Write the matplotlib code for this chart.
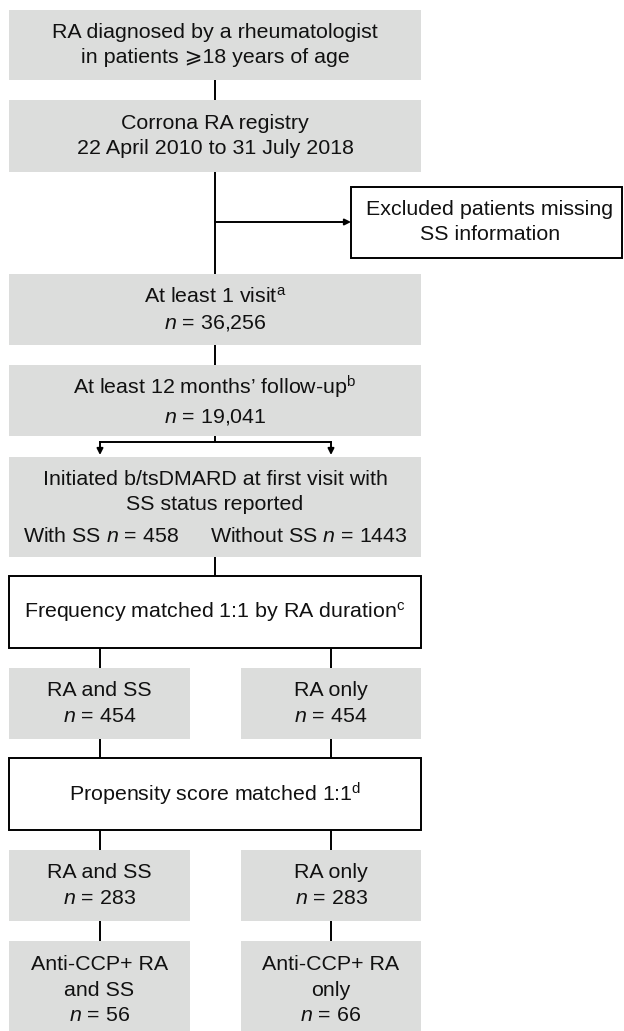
import matplotlib.pyplot as plt
from matplotlib.patches import Rectangle

# ---- flowchart content ----
stage_labels = [
    'RA diagnosed by a rheumatologist\nin patients \u2a7e18 years of age',
    'Corrona RA registry\n22 April 2010 to 31 July 2018',
    'At least 1 visit$^{\\mathrm{a}}$',
    'At least 12 months\u2019 follow-up$^{\\mathrm{b}}$',
    'Initiated b/tsDMARD at first visit with\nSS status reported',
]
stage_counts = [None, None, '36,256', '19,041', None]
excluded_label = 'Excluded patients missing\nSS information'
split_groups = ['With SS', 'Without SS']
split_counts = ['458', '1443']
match_steps = ['Frequency matched 1:1 by RA duration$^{\\mathrm{c}}$',
               'Propensity score matched 1:1$^{\\mathrm{d}}$']
arm_labels = ['RA and SS', 'RA only']
arm_counts_freq = ['454', '454']
arm_counts_ps = ['283', '283']
ccp_labels = ['Anti-CCP+ RA\nand SS', 'Anti-CCP+ RA\nonly']
ccp_counts = ['56', '66']

GRAY = '#dcdddc'
plt.rcParams['font.family'] = ['Liberation Sans', 'DejaVu Sans']
plt.rcParams['mathtext.fontset'] = 'custom'
plt.rcParams['mathtext.rm'] = 'Liberation Sans'
plt.rcParams['mathtext.it'] = 'Liberation Sans:italic'
FS = 15.4
LS = 1.42

fig = plt.figure(figsize=(6.24, 10.31), dpi=100)
ax = fig.add_axes([0, 0, 1, 1])
ax.set_xlim(0, 624)
ax.set_ylim(1031, 0)
ax.axis('off')


def box(x0, y0, x1, y1, filled=True):
    if filled:
        ax.add_patch(Rectangle((x0, y0), x1 - x0, y1 - y0, facecolor=GRAY,
                               edgecolor='none', zorder=1))
    else:
        ax.add_patch(Rectangle((x0, y0), x1 - x0, y1 - y0, facecolor='white',
                               edgecolor='black', lw=1.4, zorder=1))


def vline(x, y0, y1):
    ax.plot([x, x], [y0, y1], color='black', lw=1.4, zorder=2,
            solid_capstyle='butt')


def arrow(x0, y0, x1, y1):
    ax.annotate('', xy=(x1, y1), xytext=(x0, y0),
                arrowprops=dict(arrowstyle='-|>', color='black', lw=1.4,
                                mutation_scale=9, shrinkA=0, shrinkB=0))


def label(x, y, s, **kw):
    ax.text(x, y, s, ha='center', va='center', fontsize=FS, color='#111111',
            linespacing=LS, **kw)


def with_n(name, n):
    return name + '\n$n$ = ' + n


XC, XL, XR = 215, 100, 331

# top column of boxes
tops = [(10, 80), (100, 172), (274, 345), (365, 436), (457, 557)]
for (y0, y1), txt, n in zip(tops, stage_labels, stage_counts):
    box(9, y0, 421, y1)
    if n is not None:
        label(XC, (y0 + y1) / 2, with_n(txt, n))

label(XC, 45, stage_labels[0])
label(XC, 136, stage_labels[1])
label(XC, 492, stage_labels[4])
ax.text(23, 536, split_groups[0] + ' $n$ = ' + split_counts[0], ha='left',
        va='center', fontsize=FS, color='#111111')
ax.text(408, 536, split_groups[1] + ' $n$ = ' + split_counts[1], ha='right',
        va='center', fontsize=FS, color='#111111')

vline(XC, 80, 100)
vline(XC, 172, 274)
vline(XC, 345, 365)

# excluded branch
arrow(XC, 222, 351, 222)
box(351, 187, 622, 258, filled=False)
label(490, 222, excluded_label)

# split into two arrows
vline(XC, 436, 442)
ax.plot([XL, XR], [442, 442], color='black', lw=1.4, zorder=2)
arrow(XL, 442, XL, 455)
arrow(XR, 442, XR, 455)

# frequency matching
vline(XC, 557, 576)
box(9, 576, 421, 648, filled=False)
label(XC, 612, match_steps[0])

for x in [XL, XR]:
    vline(x, 648, 668)
    vline(x, 739, 758)
    vline(x, 830, 850)
    vline(x, 921, 941)

cols = [(9, 190), (241, 421)]
for (a, b), name, n in zip(cols, arm_labels, arm_counts_freq):
    box(a, 668, b, 739)
    label((a + b) / 2, 703.5, with_n(name, n))

box(9, 758, 421, 830, filled=False)
label(XC, 794, match_steps[1])

for (a, b), name, n in zip(cols, arm_labels, arm_counts_ps):
    box(a, 850, b, 921)
    label((a + b) / 2, 885.5, with_n(name, n))

for (a, b), name, n in zip(cols, ccp_labels, ccp_counts):
    box(a, 941, b, 1031)
    label((a + b) / 2, 990, with_n(name, n))

fig.savefig('out.png', dpi=100)
